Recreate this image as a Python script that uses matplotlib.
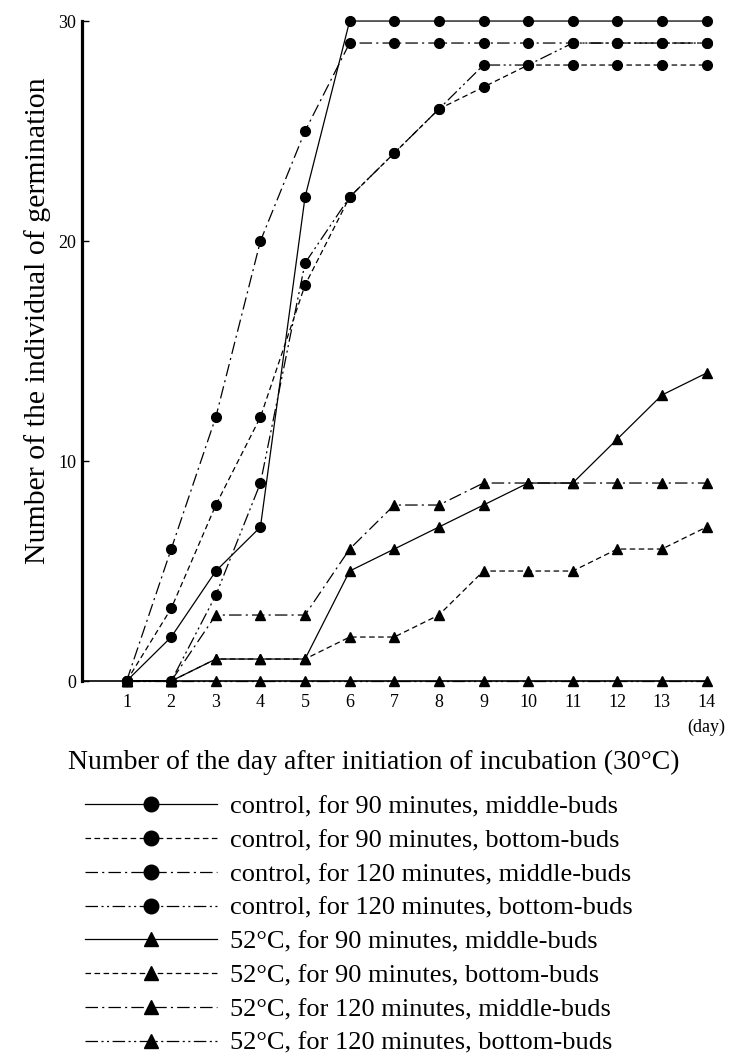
import matplotlib
matplotlib.use("Agg")
import matplotlib.pyplot as plt

plt.rcParams["font.family"] = ["Liberation Serif", "DejaVu Serif"]
plt.rcParams["lines.scale_dashes"] = False

# days after start of incubation
days = [1, 2, 3, 4, 5, 6, 7, 8, 9, 10, 11, 12, 13, 14]

# control series (circles)
ctrl_90_mid = [0, 2, 5, 7, 22, 30, 30, 30, 30, 30, 30, 30, 30, 30]
ctrl_90_bot = [0, 3.3, 8, 12, 18, 22, 24, 26, 27, 28, 28, 28, 28, 28]
ctrl_120_mid = [0, 6, 12, 20, 25, 29, 29, 29, 29, 29, 29, 29, 29, 29]
ctrl_120_bot = [0, 0, 3.9, 9, 19, 22, 24, 26, 28, 28, 29, 29, 29, 29]

# 52 C treated series (triangles)
heat_90_mid = [0, 0, 1, 1, 1, 5, 6, 7, 8, 9, 9, 11, 13, 14]
heat_90_bot = [0, 0, 1, 1, 1, 2, 2, 3, 5, 5, 5, 6, 6, 7]
heat_120_mid = [0, 0, 3, 3, 3, 6, 8, 8, 9, 9, 9, 9, 9, 9]
heat_120_bot = [0, 0, 0, 0, 0, 0, 0, 0, 0, 0, 0, 0, 0, 0]

labels = [
    "control, for 90 minutes, middle-buds",
    "control, for 90 minutes, bottom-buds",
    "control, for 120 minutes, middle-buds",
    "control, for 120 minutes, bottom-buds",
    "52°C, for 90 minutes, middle-buds",
    "52°C, for 90 minutes, bottom-buds",
    "52°C, for 120 minutes, middle-buds",
    "52°C, for 120 minutes, bottom-buds",
]

solid = "-"
dashed = (0, (4, 2.5))
dashdot = (0, (9, 3, 1.5, 3))
dashdotdot = (0, (9, 2.5, 1.5, 2.5, 1.5, 2.5))

series = [
    (ctrl_90_mid, solid, "o"),
    (ctrl_90_bot, dashed, "o"),
    (ctrl_120_mid, dashdot, "o"),
    (ctrl_120_bot, dashdotdot, "o"),
    (heat_90_mid, solid, "^"),
    (heat_90_bot, dashed, "^"),
    (heat_120_mid, dashdot, "^"),
    (heat_120_bot, dashdotdot, "^"),
]

fig = plt.figure(figsize=(7.36, 10.57), dpi=100)
ax = fig.add_axes([0.1114, 0.3557, 0.8668, 0.6244])

for (vals, ls, mk), lab in zip(series, labels):
    ax.plot(days, vals, color="black", linestyle=ls, linewidth=0.9,
            marker=mk, markersize=7 if mk == "o" else 6.5,
            markerfacecolor="black", markeredgecolor="black",
            label=lab, clip_on=False)

ax.set_xlim(0, 14.3)
ax.set_ylim(0, 30)
ax.set_xticks(days)
ax.set_xticklabels([str(d) for d in days])
ax.set_yticks([0, 10, 20, 30])
ax.tick_params(axis="x", length=0, pad=9, labelsize=13)
ax.tick_params(axis="y", direction="in", length=5, width=1, pad=4, labelsize=13)

for s in ["top", "right"]:
    ax.spines[s].set_visible(False)
ax.spines["left"].set_linewidth(2.3)
ax.spines["bottom"].set_linewidth(1.2)
ax.spines["bottom"].set_bounds(0, 14)

ax.annotate("(day)", xy=(14, 0), xycoords="data", xytext=(0, -33),
            textcoords="offset points", ha="center", va="center", fontsize=13)

fig.text(38 / 736, 1 - 321 / 1057, "Number of the individual of germination",
         rotation=90, ha="center", va="center", fontsize=21.5)
fig.text(374 / 736, 1 - 762 / 1057,
         "Number of the day after initiation of incubation (30°C)",
         ha="center", va="center", fontsize=20)

fig.legend(loc="upper left", bbox_to_anchor=(85 / 736, 1 - 795 / 1057),
           frameon=False, fontsize=19, handlelength=5.0, handletextpad=0.5,
           labelspacing=0.39, borderpad=0, borderaxespad=0,
           numpoints=1, markerscale=1.5)

fig.savefig("out.png", dpi=100)
plt.close(fig)
